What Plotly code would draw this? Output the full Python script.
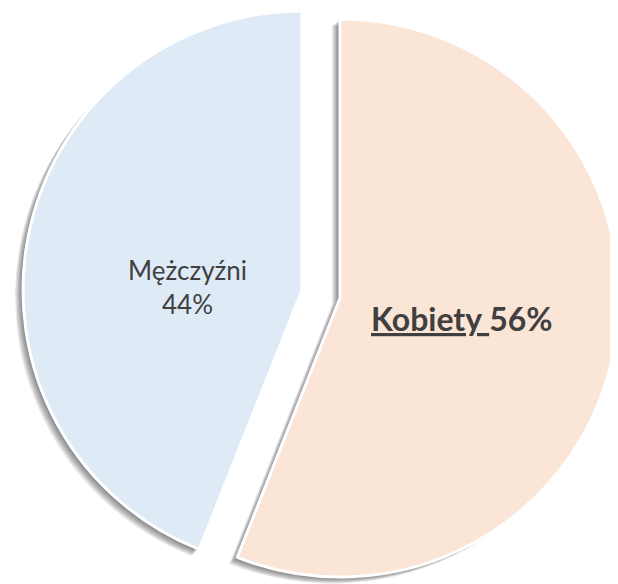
import plotly.graph_objects as go

labels = ["Kobiety", "Mężczyźni"]
values = [56, 44]
colors = ["#FBE5D6", "#DEEBF7"]

W, H = 618, 584
OFF = 8  # default page margin around the figure
R = 279
centers = [(340, 298), (302, 290)]  # screen pixel centres of each exploded slice


def domain(cx, cy, r):
    cx -= OFF
    cy -= OFF
    return dict(x=[max(0, (cx - r) / W), min(1, (cx + r) / W)],
                y=[max(0, 1 - (cy + r) / H), min(1, 1 - (cy - r) / H)])


fig = go.Figure()

# soft shadow layers
n_layers = 6
for i, (cx, cy) in enumerate(centers):
    for k in range(1, n_layers + 1):
        d = 1.2 * k
        cols = ["rgba(0,0,0,0)"] * len(values)
        cols[i] = "rgba(0,0,0,0.1)"
        fig.add_trace(go.Pie(
            labels=labels, values=values, sort=False, direction="clockwise",
            rotation=0, textinfo="none", hoverinfo="skip", showlegend=False,
            marker=dict(colors=cols, line=dict(width=0)),
            domain=domain(cx - d * 1.1, cy + d * 0.9, R),
        ))

# visible slices
for i, (cx, cy) in enumerate(centers):
    cols = ["rgba(0,0,0,0)"] * len(values)
    cols[i] = colors[i]
    widths = [0] * len(values)
    widths[i] = 3
    fig.add_trace(go.Pie(
        labels=labels, values=values, sort=False, direction="clockwise",
        rotation=0, textinfo="none", hoverinfo="label+percent", showlegend=False,
        marker=dict(colors=cols, line=dict(color="white", width=widths)),
        domain=domain(cx, cy, R),
    ))

total = sum(values)
pct = [round(v * 100 / total) for v in values]

fig.add_annotation(
    x=(461 - OFF) / W, y=1 - (318 - OFF) / H, xref="paper", yref="paper",
    xanchor="center", yanchor="middle", showarrow=False,
    text=f"<b><u>{labels[0]} </u>{pct[0]}%</b>",
    font=dict(family="Lato", size=32, color="#404040"),
)
fig.add_annotation(
    x=(187 - OFF) / W, y=1 - (287 - OFF) / H, xref="paper", yref="paper",
    xanchor="center", yanchor="middle", showarrow=False,
    text=f"{labels[1]}<br>{pct[1]}%",
    font=dict(family="Lato", size=26, color="#404040"),
)

fig.update_layout(
    width=W, height=H, margin=dict(l=0, r=0, t=0, b=0),
    paper_bgcolor="white", plot_bgcolor="white", showlegend=False,
)

fig.write_html("out.html")
